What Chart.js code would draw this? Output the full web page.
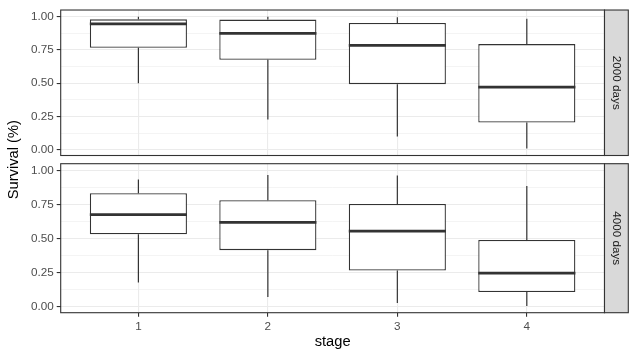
<!DOCTYPE html>
<html>
<head>
<meta charset="utf-8">
<script src="https://cdn.jsdelivr.net/npm/chart.js@4"></script>
<style>
  html, body { margin:0; padding:0; background:#fff; }
  #wrap { position:relative; width:636px; height:358px; }
  canvas { position:absolute; left:0; top:0; }
</style>
</head>
<body>
<div id="wrap">
  <canvas id="top" width="636" height="358"></canvas>
  <canvas id="bot" width="636" height="358"></canvas>
</div>
<script>
// ---- data ----
const stages = [1, 2, 3, 4];
const stageLabels = ['1', '2', '3', '4'];
const panels = ['2000 days', '4000 days'];
const majorTicks = [0, 0.25, 0.5, 0.75, 1];
const minorTicks = [0.125, 0.375, 0.625, 0.875];
const xTitle = 'stage';
const yTitle = 'Survival (%)';

const min2000 = [0.50, 0.228, 0.10, 0.01];
const q1_2000 = [0.767, 0.676, 0.493, 0.204];
const med2000 = [0.946, 0.875, 0.784, 0.47];
const q3_2000 = [0.98, 0.978, 0.953, 0.794];
const max2000 = [1.0, 1.0, 0.995, 0.985];

const min4000 = [0.179, 0.073, 0.029, 0.007];
const q1_4000 = [0.533, 0.416, 0.267, 0.108];
const med4000 = [0.677, 0.619, 0.555, 0.247];
const q3_4000 = [0.834, 0.782, 0.755, 0.491];
const max4000 = [0.934, 0.968, 0.963, 0.887];

// ---- styling ----
const FONT = "'Liberation Sans', Arial, Helvetica, sans-serif";
const DARK = '#333333';
const GRID = '#EBEBEB';
const BOX_WIDTH = 0.75;

function buildDatasets(mins, q1s, meds, q3s, maxs) {
  const boxes = stages.map((s, i) => ({ x: s, y: [q1s[i], q3s[i]] }));
  const whisk = [];
  const medl = [];
  stages.forEach((s, i) => {
    whisk.push({ x: s, y: mins[i] }, { x: s, y: q1s[i] }, { x: s, y: null });
    whisk.push({ x: s, y: q3s[i] }, { x: s, y: maxs[i] }, { x: s, y: null });
    medl.push({ x: s - BOX_WIDTH / 2, y: meds[i] }, { x: s + BOX_WIDTH / 2, y: meds[i] }, { x: s, y: null });
  });
  return [
    { type: 'line', data: whisk, borderColor: DARK, borderWidth: 1.2, pointRadius: 0,
      spanGaps: false, tension: 0, borderCapStyle: 'butt', order: 3 },
    { type: 'bar', data: boxes, backgroundColor: '#ffffff', borderColor: DARK, borderWidth: 1.3,
      borderSkipped: false, barPercentage: BOX_WIDTH, categoryPercentage: 1, order: 2 },
    { type: 'line', data: medl, borderColor: DARK, borderWidth: 2.8, pointRadius: 0,
      spanGaps: false, tension: 0, borderCapStyle: 'butt', order: 1 }
  ];
}

function decorPlugin(label, drawTitles) {
  return {
    id: 'decor_' + label.replace(/\s/g, ''),
    afterDraw(chart) {
      const { ctx, chartArea: a } = chart;
      ctx.save();
      // panel border
      ctx.strokeStyle = DARK;
      ctx.lineWidth = 1.1;
      ctx.strokeRect(a.left, a.top, a.right - a.left, a.bottom - a.top);
      // strip
      const sx = a.right, sw = 23.8;
      ctx.fillStyle = '#D9D9D9';
      ctx.fillRect(sx, a.top, sw, a.bottom - a.top);
      ctx.strokeRect(sx, a.top, sw, a.bottom - a.top);
      ctx.translate(sx + sw / 2, (a.top + a.bottom) / 2);
      ctx.rotate(Math.PI / 2);
      ctx.fillStyle = '#1A1A1A';
      ctx.font = '11.7px ' + FONT;
      ctx.textAlign = 'center';
      ctx.textBaseline = 'middle';
      ctx.fillText(label, 0, 0);
      ctx.restore();
      if (drawTitles) {
        ctx.save();
        ctx.translate(13.5, 159.7);
        ctx.rotate(-Math.PI / 2);
        ctx.fillStyle = '#000';
        ctx.font = '14.7px ' + FONT;
        ctx.textAlign = 'center';
        ctx.textBaseline = 'middle';
        ctx.fillText(yTitle, 0, 0);
        ctx.restore();
      }
    }
  };
}

function yScale() {
  return {
    type: 'linear', min: -0.043, max: 1.05,
    afterBuildTicks: s => { s.ticks = majorTicks.concat(minorTicks).sort((a, b) => a - b).map(v => ({ value: v })); },
    afterFit: s => { s.width = 60.7; },
    ticks: {
      autoSkip: false, padding: 3, color: '#4D4D4D', font: { family: FONT, size: 11.7 },
      callback: v => majorTicks.includes(v) ? v.toFixed(2) : ''
    },
    grid: {
      color: GRID,
      lineWidth: c => (c.tick && majorTicks.includes(c.tick.value)) ? 1.1 : 0.55,
      tickColor: c => (c.tick && majorTicks.includes(c.tick.value)) ? DARK : 'rgba(0,0,0,0)',
      tickLength: 4, tickWidth: 1.1
    },
    border: { display: false }
  };
}

function xScale(showLabels) {
  return {
    type: 'linear', min: 0.4, max: 4.6, offset: false,
    afterBuildTicks: s => { s.ticks = stages.map(v => ({ value: v })); },
    afterFit: s => { s.height = showLabels ? 45.3 : 0; },
    ticks: {
      display: showLabels, autoSkip: false, padding: 3, maxRotation: 0,
      color: '#4D4D4D', font: { family: FONT, size: 11.7 },
      callback: v => stageLabels[stages.indexOf(v)]
    },
    grid: { offset: false, color: GRID, lineWidth: 1.1, tickColor: DARK, tickLength: 4, tickWidth: 1.1, drawTicks: showLabels },
    border: { display: false },
    title: showLabels ? { display: true, text: xTitle, color: '#000', font: { family: FONT, size: 14.7 }, padding: { top: 0, bottom: 7.5 } } : { display: false }
  };
}

function makeChart(id, datasets, label, isBottom) {
  return new Chart(document.getElementById(id), {
    data: { datasets },
    options: {
      responsive: false, animation: false, devicePixelRatio: 1,
      layout: { padding: isBottom ? { left: 0, right: 31.5, top: 163.7, bottom: 0 }
                                  : { left: 0, right: 31.5, top: 7, bottom: 202.5 } },
      plugins: { legend: { display: false }, tooltip: { enabled: false } },
      scales: { x: xScale(isBottom), y: yScale() }
    },
    plugins: [decorPlugin(label, isBottom)]
  });
}

makeChart('top', buildDatasets(min2000, q1_2000, med2000, q3_2000, max2000), panels[0], false);
makeChart('bot', buildDatasets(min4000, q1_4000, med4000, q3_4000, max4000), panels[1], true);
</script>
</body>
</html>
